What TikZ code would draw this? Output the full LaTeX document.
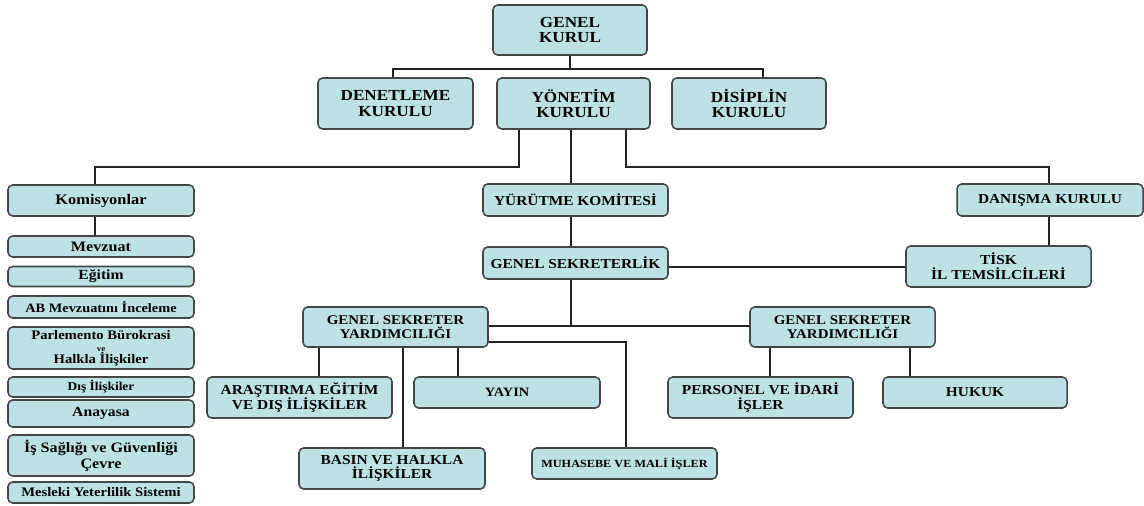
\documentclass[tikz,border=0pt]{standalone}
\usepackage{fontspec}
\setmainfont{Liberation Serif}[FakeStretch=1.12]
\definecolor{boxfill}{RGB}{189,226,230}
\definecolor{boxline}{RGB}{70,70,70}
\definecolor{connc}{RGB}{35,35,35}
\begin{document}
\begin{tikzpicture}[x=0.75pt,y=-0.75pt,
  box/.style={draw=boxline, fill=boxfill, line width=1.15pt, rounded corners=3.5pt,
    inner sep=0pt, align=center, font=\bfseries\fontsize{10.3}{11}\selectfont},
  big/.style={font=\bfseries\fontsize{11.5}{11.5}\selectfont},
  wh/.style 2 args={minimum width=#1*0.75pt, minimum height=#2*0.75pt},
  conn/.style={draw=connc, line width=1.1pt}]
\useasboundingbox (0,0) rectangle (1144,506);

% top rows
\node[box,big,wh={154}{50}] (gk) at (570,30) {GENEL\\KURUL};
\node[box,big,wh={155}{51}] (den) at (395.5,103.5) {DENETLEME\\KURULU};
\node[box,big,wh={153}{51}] (yon) at (573.5,103.5) {YÖNETİM\\KURULU};
\node[box,big,wh={154}{51}] (dis) at (749,103.5) {DİSİPLİN\\KURULU};

% commissions
\node[box,wh={186}{31},font=\bfseries\fontsize{11}{11}\selectfont] (kom) at (101,200.5) {Komisyonlar};
\node[box,wh={186}{21},font=\bfseries\fontsize{10.8}{11}\selectfont] (mev) at (101,246.5) {Mevzuat};
\node[box,wh={186}{20},font=\bfseries\fontsize{10.5}{11}\selectfont] (egi) at (101,276.5) {Eğitim};
\node[box,wh={186}{22},font=\bfseries\fontsize{9.6}{10}\selectfont] (abm) at (101,307) {AB Mevzuatını İnceleme};
\node[box,wh={186}{42},font=\bfseries\fontsize{9.8}{9}\selectfont] (par) at (101,348)
  {Parlemento Bürokrasi\\{\fontsize{6}{9}\selectfont ve}\\Halkla İlişkiler};
\node[box,wh={186}{20},font=\bfseries\fontsize{9}{10}\selectfont] (dil) at (101,387) {Dış İlişkiler};
\node[box,wh={186}{27},font=\bfseries\fontsize{10.5}{11}\selectfont] (ana) at (101,413.5) {Anayasa};
\node[box,wh={186}{41},font=\bfseries\fontsize{10.8}{12}\selectfont] (isg) at (101,455.5) {İş Sağlığı ve Güvenliği\\Çevre};
\node[box,wh={186}{21},font=\bfseries\fontsize{9.8}{10}\selectfont] (mes) at (101,492.5) {Mesleki Yeterlilik Sistemi};

% centre column
\node[box,wh={185}{32}] (yur) at (575.5,200) {YÜRÜTME KOMİTESİ};
\node[box,wh={185}{32}] (gs) at (575.5,263) {GENEL SEKRETERLİK};
\node[box,wh={186}{32}] (dan) at (1050,200) {DANIŞMA KURULU};
\node[box,wh={185}{41}] (tisk) at (998.5,266.5) {TİSK\\İL TEMSİLCİLERİ};

% deputy secretariats
\node[box,wh={185}{40},font=\bfseries\fontsize{10}{10.5}\selectfont] (gsya) at (395.5,327) {GENEL SEKRETER\\YARDIMCILIĞI};
\node[box,wh={185}{40},font=\bfseries\fontsize{10}{10.5}\selectfont] (gsyb) at (842.5,327) {GENEL SEKRETER\\YARDIMCILIĞI};

% units
\node[box,wh={185}{41}] (ara) at (299.5,397.5) {ARAŞTIRMA EĞİTİM\\VE DIŞ İLİŞKİLER};
\node[box,wh={186}{31},font=\bfseries\fontsize{9.6}{11}\selectfont] (yay) at (507,392.5) {YAYIN};
\node[box,wh={186}{41}] (bas) at (392,468.5) {BASIN VE HALKLA\\İLİŞKİLER};
\node[box,wh={185}{31},font=\bfseries\fontsize{8.2}{10}\selectfont] (muh) at (624.5,463.5) {MUHASEBE VE MALİ İŞLER};
\node[box,wh={185}{41}] (per) at (760.5,397.5) {PERSONEL VE İDARİ\\İŞLER};
\node[box,wh={184}{31}] (huk) at (975,392.5) {HUKUK};

% connectors
\draw[conn] (gk) -- (gk |- 0,69);
\draw[conn] (den.north -| 393,0) -- (393,69) -- (763,69) -- (dis.north -| 763,0);
\draw[conn] (yon.south -| 519,0) -- (519,167) -- (95,167) -- (kom.north -| 95,0);
\draw[conn] (yon.south -| 571,0) -- (yur.north -| 571,0);
\draw[conn] (yon.south -| 626,0) -- (626,167) -- (1049,167) -- (dan.north -| 1049,0);
\draw[conn] (kom.south -| 95,0) -- (mev.north -| 95,0);
\draw[conn] (yur.south -| 571,0) -- (gs.north -| 571,0);
\draw[conn] (dan.south -| 1049,0) -- (tisk.north -| 1049,0);
\draw[conn] (gs.east |- 0,267) -- (tisk.west |- 0,267);
\draw[conn] (gs.south -| 571,0) -- (571,326);
\draw[conn] (gsya.east |- 0,326) -- (gsyb.west |- 0,326);
\draw[conn] (gsya.east |- 0,342) -- (626,342) -- (muh.north -| 626,0);
\draw[conn] (gsya.south -| 319,0) -- (ara.north -| 319,0);
\draw[conn] (gsya.south -| 403,0) -- (bas.north -| 403,0);
\draw[conn] (gsya.south -| 458,0) -- (yay.north -| 458,0);
\draw[conn] (gsyb.south -| 770,0) -- (per.north -| 770,0);
\draw[conn] (gsyb.south -| 910,0) -- (huk.north -| 910,0);
\end{tikzpicture}
\end{document}
